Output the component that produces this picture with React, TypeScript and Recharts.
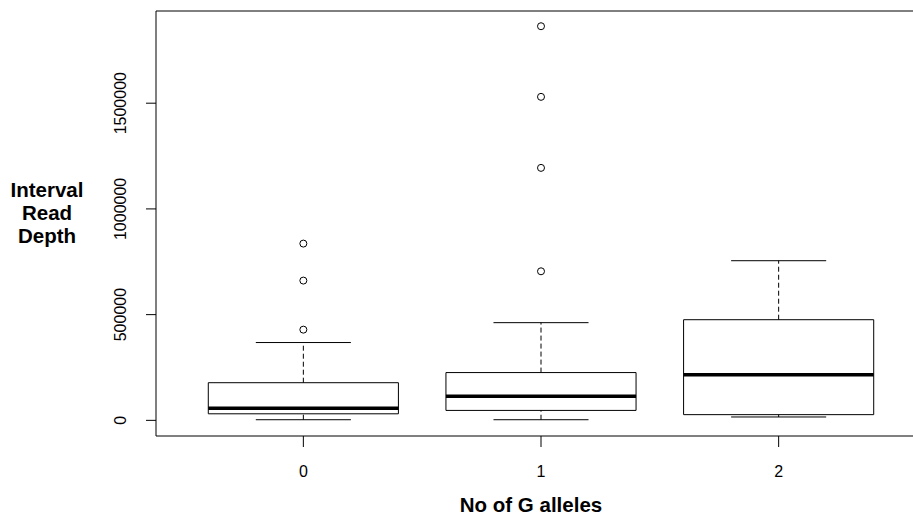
import React from 'react'
import {
  ComposedChart,
  XAxis,
  YAxis,
  ReferenceArea,
  ReferenceLine,
  Scatter,
} from 'recharts'

// groups: number of G alleles
const groups = ['0', '1', '2']
const groupPos = [1, 2, 3]

// five-number summaries
const whiskerLow = [3000, 3000, 16000]
const q1 = [31000, 47000, 27000]
const median = [57000, 114000, 216000]
const q3 = [178000, 226000, 476000]
const whiskerHigh = [368000, 462000, 755000]

const outliers = [
  [429000, 661000, 836000],
  [705000, 1194000, 1530000, 1864000],
  [],
]

const yTicks = [0, 500000, 1000000, 1500000]
const yDomain = [-74000, 1936000]
const xDomain = [0.38, 3.62]

const FONT = '"Liberation Sans", Arial, sans-serif'

const outlierData = outliers.flatMap((vals, i) =>
  vals.map((v) => ({ x: groupPos[i], y: v }))
)

const YTick = (props: any) => {
  const { y, payload } = props
  return (
    <text
      transform={`translate(126,${y}) rotate(-90)`}
      textAnchor="middle"
      fontSize={16}
      fontFamily={FONT}
      fill="#000"
    >
      {payload.value}
    </text>
  )
}

const XTick = (props: any) => {
  const { x, payload } = props
  return (
    <text x={x} y={477} textAnchor="middle" fontSize={16} fontFamily={FONT} fill="#000">
      {groups[payload.value - 1]}
    </text>
  )
}

const OpenCircle = (props: any) => (
  <circle cx={props.cx} cy={props.cy} r={3.5} fill="none" stroke="#000" strokeWidth={1} />
)

export default function App() {
  return (
    <div
      style={{
        position: 'absolute',
        left: 0,
        top: 0,
        width: 913,
        height: 517,
        overflow: 'hidden',
        background: '#fff',
      }}
    >
      <ComposedChart
        width={960}
        height={517}
        data={outlierData}
        margin={{ top: 11, right: 34, bottom: 0, left: 0 }}
      >
        <XAxis
          dataKey="x"
          type="number"
          domain={xDomain}
          ticks={groupPos}
          interval={0}
          allowDataOverflow
          axisLine={false}
          tickSize={11}
          tickLine={{ stroke: '#000' }}
          tick={<XTick />}
          height={81}
        />
        <YAxis
          type="number"
          domain={yDomain}
          ticks={yTicks}
          interval={0}
          allowDataOverflow
          axisLine={false}
          tickSize={10}
          tickLine={{ stroke: '#000' }}
          tick={<YTick />}
          width={156}
        />

        {/* plot frame */}
        <ReferenceArea
          x1={xDomain[0]}
          x2={xDomain[1]}
          y1={yDomain[0]}
          y2={yDomain[1]}
          fill="none"
          stroke="#000"
          strokeWidth={1}
          ifOverflow="visible"
        />

        {/* whiskers */}
        {groupPos.map((g, i) => (
          <ReferenceLine
            key={`wu${i}`}
            segment={[{ x: g, y: q3[i] }, { x: g, y: whiskerHigh[i] }]}
            stroke="#000"
            strokeDasharray="5 3"
            ifOverflow="visible"
          />
        ))}
        {groupPos.map((g, i) => (
          <ReferenceLine
            key={`wl${i}`}
            segment={[{ x: g, y: whiskerLow[i] }, { x: g, y: q1[i] }]}
            stroke="#000"
            strokeDasharray="5 3"
            ifOverflow="visible"
          />
        ))}

        {/* boxes */}
        {groupPos.map((g, i) => (
          <ReferenceArea
            key={`box${i}`}
            x1={g - 0.4}
            x2={g + 0.4}
            y1={q1[i]}
            y2={q3[i]}
            fill="#fff"
            fillOpacity={1}
            stroke="#000"
            strokeWidth={1}
            ifOverflow="visible"
          />
        ))}

        {/* medians */}
        {groupPos.map((g, i) => (
          <ReferenceLine
            key={`med${i}`}
            segment={[{ x: g - 0.4, y: median[i] }, { x: g + 0.4, y: median[i] }]}
            stroke="#000"
            strokeWidth={3.5}
            ifOverflow="visible"
          />
        ))}

        {/* whisker caps */}
        {groupPos.map((g, i) => (
          <ReferenceLine
            key={`cu${i}`}
            segment={[{ x: g - 0.2, y: whiskerHigh[i] }, { x: g + 0.2, y: whiskerHigh[i] }]}
            stroke="#000"
            ifOverflow="visible"
          />
        ))}
        {groupPos.map((g, i) => (
          <ReferenceLine
            key={`cl${i}`}
            segment={[{ x: g - 0.2, y: whiskerLow[i] }, { x: g + 0.2, y: whiskerLow[i] }]}
            stroke="#000"
            ifOverflow="visible"
          />
        ))}

        <Scatter dataKey="y" shape={<OpenCircle />} isAnimationActive={false} />
      </ComposedChart>

      {/* axis titles */}
      <svg
        width={913}
        height={517}
        style={{ position: 'absolute', left: 0, top: 0, pointerEvents: 'none' }}
      >
        <g fontFamily={FONT} fontWeight="bold" fontSize={20.5} fill="#000" textAnchor="middle">
          <text x={47} y={197}>Interval</text>
          <text x={47} y={220}>Read</text>
          <text x={47} y={243}>Depth</text>
          <text x={531} y={512}>No of G alleles</text>
        </g>
      </svg>
    </div>
  )
}
